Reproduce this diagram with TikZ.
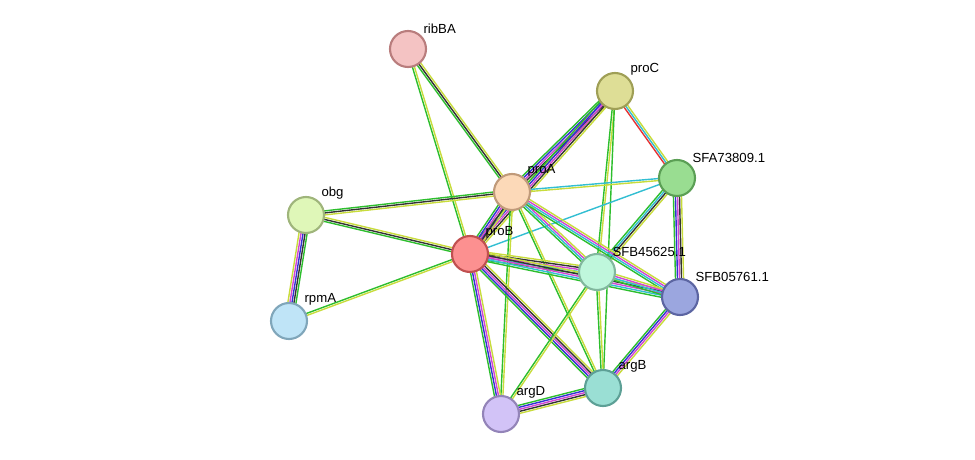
\documentclass[tikz,border=0pt]{standalone}
\usepackage{fontspec}
\setmainfont{Liberation Sans}
\usetikzlibrary{calc,backgrounds}

\definecolor{eGreen}{HTML}{2DBE2D}
\definecolor{eDark}{HTML}{333333}
\definecolor{eYellow}{HTML}{C8DC3C}
\definecolor{eBlue}{HTML}{3232D2}
\definecolor{eMagenta}{HTML}{D246D2}
\definecolor{eCyan}{HTML}{32BED2}
\definecolor{eRed}{HTML}{E63232}
% node fill / border
\definecolor{fRibBA}{HTML}{F4C3C3}\definecolor{bRibBA}{HTML}{B97D7D}
\definecolor{fProC}{HTML}{DEDE96}\definecolor{bProC}{HTML}{9F9F56}
\definecolor{fSFA}{HTML}{99DD91}\definecolor{bSFA}{HTML}{5B9F55}
\definecolor{fProA}{HTML}{FCD9B8}\definecolor{bProA}{HTML}{C09A7A}
\definecolor{fObg}{HTML}{DFF7B8}\definecolor{bObg}{HTML}{9FB57B}
\definecolor{fProB}{HTML}{FC9090}\definecolor{bProB}{HTML}{C05050}
\definecolor{fSFBa}{HTML}{BFF7DC}\definecolor{bSFBa}{HTML}{82B89E}
\definecolor{fSFBb}{HTML}{9BA6DF}\definecolor{bSFBb}{HTML}{5C65A2}
\definecolor{fRpmA}{HTML}{BFE4F7}\definecolor{bRpmA}{HTML}{80A6BA}
\definecolor{fArgB}{HTML}{9ADFD4}\definecolor{bArgB}{HTML}{5DA096}
\definecolor{fArgD}{HTML}{D2C3F7}\definecolor{bArgD}{HTML}{9384B8}

\tikzset{
  prot/.style={circle, minimum size=0.72cm, inner sep=0pt, line width=1.2pt, fill=f#1, draw=b#1},
  plbl/.style={font=\fontsize{7.5}{9}\selectfont, inner sep=1pt}
}

% parallel coloured lines between two nodes
\newcommand{\strEdge}[4]{%
  \foreach \ec [count=\ei] in {#4} {
    \pgfmathsetmacro{\eo}{(\ei-(#3+1)/2)*1.15}
    \draw[\ec, line width=0.8pt] ($(#1)!\eo pt!90:(#2)$) -- ($(#2)!\eo pt!-90:(#1)$);
  }}

\begin{document}
\begin{tikzpicture}[x=0.02cm,y=-0.02cm]
\useasboundingbox (0,0) rectangle (975,460);
\node[prot=RibBA, label={[plbl]north east:ribBA}] (ribBA) at (408,49) {};
\node[prot=ProC, label={[plbl]north east:proC}] (proC) at (615,91) {};
\node[prot=SFA, label={[plbl]north east:SFA73809.1}] (SFA) at (677,178) {};
\node[prot=ProA, label={[plbl]north east:proA}] (proA) at (512,192) {};
\node[prot=Obg, label={[plbl]north east:obg}] (obg) at (306,215) {};
\node[prot=ProB, label={[plbl]north east:proB}] (proB) at (470,254) {};
\node[prot=SFBa, label={[plbl]north east:SFB45625.1}] (SFBa) at (597,272) {};
\node[prot=SFBb, label={[plbl]north east:SFB05761.1}] (SFBb) at (680,297) {};
\node[prot=RpmA, label={[plbl]north east:rpmA}] (rpmA) at (289,321) {};
\node[prot=ArgB, label={[plbl]north east:argB}] (argB) at (603,388) {};
\node[prot=ArgD, label={[plbl]north east:argD}] (argD) at (501,414) {};

\begin{pgfonlayer}{background}
\strEdge{ribBA}{proA}{3}{eGreen,eDark,eYellow}
\strEdge{ribBA}{proB}{2}{eGreen,eYellow}
\strEdge{proC}{proA}{5}{eGreen,eBlue,eMagenta,eDark,eYellow}
\strEdge{proC}{proB}{5}{eGreen,eBlue,eMagenta,eDark,eYellow}
\strEdge{proC}{SFA}{3}{eRed,eCyan,eYellow}
\strEdge{proC}{SFBa}{2}{eGreen,eYellow}
\strEdge{proC}{argB}{1}{eGreen}
\strEdge{SFA}{proA}{2}{eCyan,eYellow}
\strEdge{SFA}{proB}{1}{eCyan}
\strEdge{SFA}{SFBa}{4}{eGreen,eCyan,eDark,eYellow}
\strEdge{SFA}{SFBb}{5}{eGreen,eBlue,eMagenta,eDark,eYellow}
\strEdge{proA}{obg}{3}{eGreen,eDark,eYellow}
\strEdge{proA}{proB}{5}{eGreen,eBlue,eMagenta,eDark,eYellow}
\strEdge{proA}{SFBa}{4}{eGreen,eCyan,eMagenta,eYellow}
\strEdge{proA}{SFBb}{4}{eGreen,eCyan,eMagenta,eYellow}
\strEdge{proA}{argB}{2}{eGreen,eYellow}
\strEdge{proA}{argD}{2}{eGreen,eYellow}
\strEdge{obg}{proB}{3}{eGreen,eDark,eYellow}
\strEdge{obg}{rpmA}{5}{eYellow,eMagenta,eBlue,eDark,eGreen}
\strEdge{proB}{SFBa}{5}{eGreen,eCyan,eMagenta,eDark,eYellow}
\strEdge{proB}{SFBb}{5}{eGreen,eCyan,eMagenta,eDark,eYellow}
\strEdge{proB}{argB}{5}{eGreen,eBlue,eMagenta,eDark,eYellow}
\strEdge{proB}{argD}{4}{eGreen,eBlue,eMagenta,eYellow}
\strEdge{proB}{rpmA}{2}{eGreen,eYellow}
\strEdge{SFBa}{argB}{2}{eGreen,eYellow}
\strEdge{SFBa}{argD}{2}{eGreen,eYellow}
\strEdge{SFBa}{SFBb}{4}{eGreen,eCyan,eMagenta,eYellow}
\strEdge{SFBb}{argB}{4}{eGreen,eBlue,eMagenta,eYellow}
\strEdge{argB}{argD}{5}{eGreen,eBlue,eMagenta,eDark,eYellow}
\end{pgfonlayer}
\end{tikzpicture}
\end{document}
